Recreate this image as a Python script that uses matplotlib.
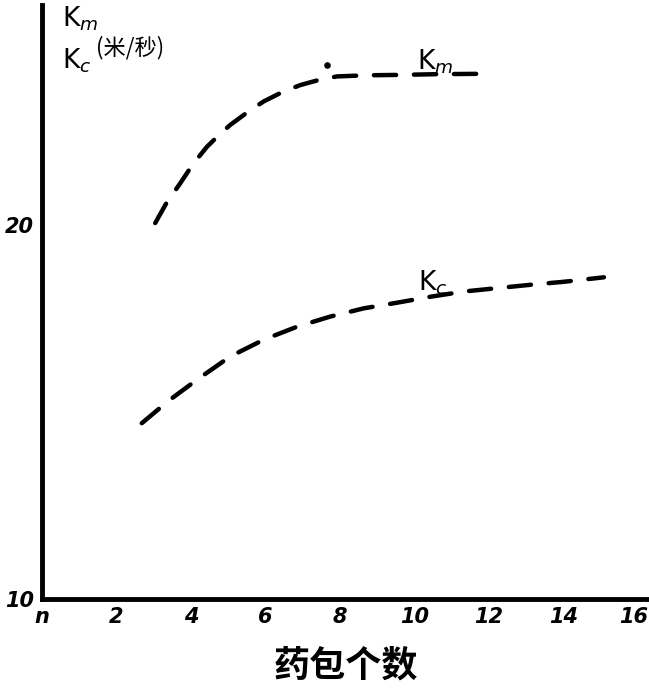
import matplotlib.pyplot as plt
import matplotlib.transforms as mtransforms

# data
km_x = [3.04, 3.35, 3.71, 4.05, 4.43, 4.75, 5.05, 5.5, 5.95, 6.45, 6.94, 7.45, 7.92, 8.7, 9.53, 10.6, 11.77]
km_y = [20.05, 20.6, 21.11, 21.62, 22.09, 22.4, 22.67, 23.0, 23.3, 23.55, 23.74, 23.88, 23.97, 24.0, 24.01, 24.03, 24.04]

kc_x = [2.68, 3.4, 4.16, 5.05, 5.95, 6.85, 7.74, 8.64, 9.53, 10.43, 11.33, 12.22, 13.12, 14.01, 15.09]
kc_y = [14.70, 15.3, 15.86, 16.48, 16.93, 17.28, 17.55, 17.77, 17.92, 18.08, 18.22, 18.31, 18.40, 18.48, 18.60]

dot_x = [7.66]
dot_y = [24.28]

x_ticks = [0, 2, 4, 6, 8, 10, 12, 14, 16]
x_tick_labels = ["n", "2", "4", "6", "8", "10", "12", "14", "16"]
y_ticks = [10, 20]
y_tick_labels = ["10", "20"]

plt.rcParams['font.family'] = ['DejaVu Sans', 'Noto Sans CJK SC']

fig = plt.figure(figsize=(6.49, 6.92), dpi=100)
ax = fig.add_axes([0.0647, 0.1344, 0.9353, 0.8584])

line_kw = dict(color="black", lw=3.2, dashes=(5, 4), dash_capstyle="round")
ax.plot(km_x, km_y, **line_kw)
ax.plot(kc_x, kc_y, **line_kw)
ax.scatter(dot_x, dot_y, s=14, color="black")

ax.set_xlim(0, 16.3)
ax.set_ylim(10, 25.88)

# only left and bottom axis lines
for side in ["top", "right"]:
    ax.spines[side].set_visible(False)
for side in ["left", "bottom"]:
    ax.spines[side].set_linewidth(3.5)
    ax.spines[side].set_capstyle("projecting")

ax.set_xticks(x_ticks)
ax.set_xticklabels(x_tick_labels, fontsize=15, fontweight="bold", fontstyle="italic")
ax.set_yticks(y_ticks)
ax.set_yticklabels(y_tick_labels, fontsize=15, fontweight="bold", fontstyle="italic")
ax.tick_params(length=0, pad=6)

# keep the last tick label inside the figure
last = ax.get_xticklabels()[-1]
last.set_transform(last.get_transform() + mtransforms.ScaledTranslation(-0.04, 0, fig.dpi_scale_trans))

# curve labels
ax.text(10.56, 24.36, "K$_m$", fontsize=19, ha="center", va="center")
ax.text(10.48, 18.45, "K$_c$", fontsize=19, ha="center", va="center")

# axis titles
ax.text(0.55, 25.5, "K$_m$", fontsize=19, ha="left", va="center")
ax.text(0.55, 24.4, "K$_c$", fontsize=19, ha="left", va="center")
ax.text(1.45, 24.73, "(米/秒)", fontsize=16, ha="left", va="center",
        family=["Noto Sans CJK SC", "DejaVu Sans"])

fig.text(0.533, 0.038, "药包个数", fontsize=26, fontweight="bold", ha="center", va="center",
         family=["Noto Sans CJK SC", "DejaVu Sans"])

fig.savefig("out.png", dpi=100)
